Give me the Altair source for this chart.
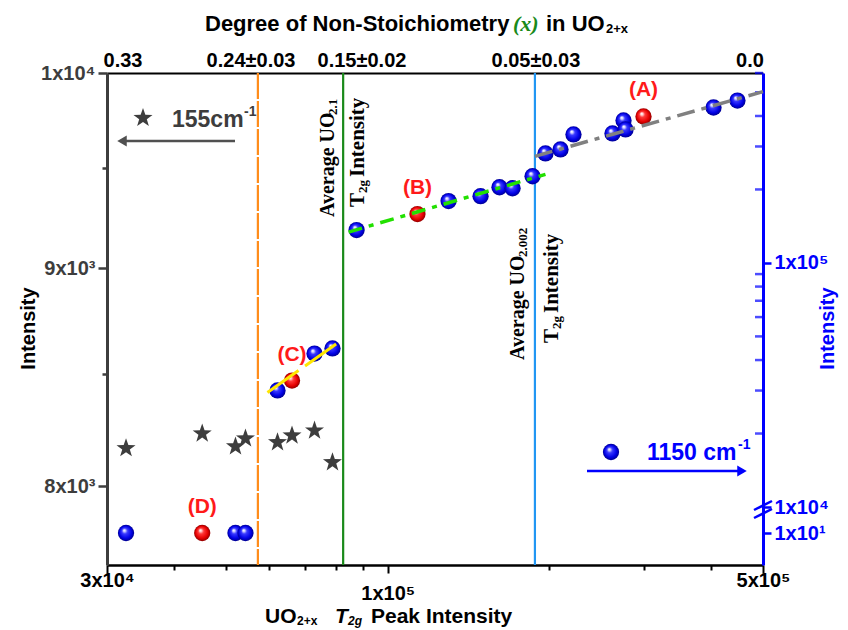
import math
import altair as alt
import pandas as pd

# ---------------- data ----------------
# 155 cm-1 band (stars, left axis)
star_x = [32550, 45130, 52050, 54330, 62330, 66330, 73050, 78900]
star_y = [8166, 8231, 8174, 8209, 8192, 8222, 8244, 8104]

# 1150 cm-1 band (blue spheres, right axis)
blue_x = [32550, 52050, 54330, 62330, 73050, 78900, 87500, 129800, 148900, 161500,
          170800, 186100, 196700, 209800, 221800, 262200, 274900, 277300, 404400, 448100]
blue_y = [10, 10, 10, 30040, 42530, 44630, 136400, 179200, 187700, 204200,
          202300, 226500, 281000, 291800, 336200, 339400, 383500, 352400, 433300, 462700]

# highlighted samples (red spheres)
red_x = [299500, 113600, 66330, 45130]
red_y = [398300, 158500, 32960, 10]
red_lab = ["(A)", "(B)", "(C)", "(D)"]

# linear guides
gray_x = [188000, 500000]
gray_y = [273400, 503500]
green_x = [84540, 196700]
green_y = [133800, 230700]
yellow_x = [59700, 81330]
yellow_y = [29470, 47600]

# vertical markers
vline_x = [57300, 82600, 188000]

# axes
bottom_ticks = [30000, 40000, 50000, 60000, 70000, 80000, 90000, 100000, 200000, 300000, 400000, 500000]
bottom_major = [30000, 100000, 500000]
bottom_labels = ["3x10\u2074", "1x10\u2075", "5x10\u2075"]

left_ticks = [8000, 8500, 9000, 9500, 10000]
left_major = [8000, 9000, 10000]
left_labels = ["8x10\u00b3", "9x10\u00b3", "1x10\u2074"]

right_major = [10, 10000, 100000]
right_labels = ["1x10\u00b9", "1x10\u2074", "1x10\u2075"]
right_minor = [20000, 30000, 40000, 50000, 60000, 70000, 80000, 90000,
               200000, 300000, 400000, 500000, 600000]

top_pos = [32060, 55520, 89350, 188400, 471800]
top_labels = ["0.33", "0.24\u00b10.03", "0.15\u00b10.02", "0.05\u00b10.03", "0.0"]

# ---------------- styling helpers ----------------
W, H = 656, 492
SANS = "Liberation Sans"
SERIF = "Liberation Serif"
LEFTC = "#3d3d3d"
BLUE = "#0000ff"
RED = "#ff1a1a"


def lab_expr(vals, labs):
    e = "''"
    for v, l in zip(reversed(vals), reversed(labs)):
        e = f"(datum.value == {v}) ? '{l}' : {e}"
    return e


def any_test(vals):
    return " || ".join(f"datum.value == {v}" for v in vals)


xscale = alt.Scale(type="log", domain=[30000, 500000], nice=False)
yscale_left = alt.Scale(type="log", domain=[7667, 10000], nice=False)
yscale_right = alt.Scale(type="log", domain=[7.4, 10, 10000, 600000],
                         range=[492, 460, 434, 0], nice=False)

axis_bottom = alt.Axis(
    orient="bottom", values=bottom_ticks, labelExpr=lab_expr(bottom_major, bottom_labels),
    title=None, grid=False,
    tickSize={"condition": {"test": any_test(bottom_major), "value": 8}, "value": 5},
    tickWidth=2, tickColor="black", domainColor="black", domainWidth=2.5,
    labelPadding={"condition": {"test": "datum.value == 100000", "value": 10}, "value": -3},
    labelFont=SANS, labelFontWeight="bold", labelFontSize=20, labelColor="black",
    labelFlush=False, labelOverlap=False, labelBound=False,
)
axis_top = alt.Axis(
    orient="top", values=top_pos, labelExpr=lab_expr(top_pos, top_labels),
    title=None, grid=False, ticks=False, domainColor="black", domainWidth=2,
    labelPadding=3, labelFont=SANS, labelFontWeight="bold", labelFontSize=20,
    labelColor="black", labelFlush=False, labelOverlap=False, labelBound=False,
)
axis_left = alt.Axis(
    orient="left", values=left_ticks, labelExpr=lab_expr(left_major, left_labels),
    title="Intensity", titleAngle=270, titleX=-79, titleY=255, titleAlign="center",
    titleBaseline="middle", titleFont=SANS, titleFontWeight="bold", titleFontSize=20,
    titleColor="black", grid=False,
    tickSize={"condition": {"test": any_test(left_major), "value": 9}, "value": 5},
    tickWidth=2.5, tickColor=LEFTC, domainColor=LEFTC, domainWidth=3,
    labelPadding=3, labelFont=SANS, labelFontWeight="bold", labelFontSize=20,
    labelColor=LEFTC, labelOverlap=False, labelFlush=False, labelBound=False,
)
axis_right = alt.Axis(
    orient="right", values=right_major, labelExpr=lab_expr(right_major, right_labels),
    title="Intensity", titleAngle=270, titleX=64, titleY=255, titleAlign="center",
    titleBaseline="middle", titleFont=SANS, titleFontWeight="bold", titleFontSize=20,
    titleColor=BLUE, grid=False, tickSize=8, tickWidth=2.5, tickColor=BLUE,
    domainColor=BLUE, domainWidth=3, labelPadding=3, labelFont=SANS,
    labelFontWeight="bold", labelFontSize=20, labelColor=BLUE,
    labelOverlap=False, labelFlush=False, labelBound=False,
)


def sphere(base_light, base, dark, darkest):
    return alt.RadialGradient(
        gradient="radial", x1=0.38, y1=0.32, r1=0.0, x2=0.5, y2=0.5, r2=0.5,
        stops=[
            alt.GradientStop(offset=0.0, color="#ffffff"),
            alt.GradientStop(offset=0.14, color=base_light),
            alt.GradientStop(offset=0.34, color=base),
            alt.GradientStop(offset=0.75, color=dark),
            alt.GradientStop(offset=1.0, color=darkest),
        ],
    )


blue_grad = sphere("#d6d6ff", "#3a3aff", "#0000e6", "#00008f")
red_grad = sphere("#ffd6d6", "#ff3a3a", "#e60000", "#8f0000")

pts = []
for i in range(10):
    r = 1.0 if i % 2 == 0 else 0.4
    a = math.radians(-90 + 36 * i)
    pts.append((r * math.cos(a), r * math.sin(a)))
STAR = "M" + " L".join(f"{px:.3f},{py:.3f}" for px, py in pts) + " Z"
BALL = 265

# ---------------- data frames ----------------
df_star = pd.DataFrame({"x": star_x, "y": star_y})
df_blue = pd.DataFrame({"x": blue_x, "y": blue_y})
df_red = pd.DataFrame({"x": red_x, "y": red_y, "lab": red_lab})
df_gray = pd.DataFrame({"x": gray_x, "y": gray_y})
df_green = pd.DataFrame({"x": green_x, "y": green_y})
df_yellow = pd.DataFrame({"x": yellow_x, "y": yellow_y})
dummy = pd.DataFrame({"d": [0]})

xL = alt.X("x:Q", scale=xscale, axis=axis_bottom)
yL = alt.Y("y:Q", scale=yscale_left, axis=axis_left)
xR = alt.X("x:Q", scale=xscale, axis=None)
yR = alt.Y("y:Q", scale=yscale_right, axis=axis_right)
xT = alt.X("x:Q", scale=xscale, axis=axis_top)

# ---- left group: stars ----
stars = alt.Chart(df_star).mark_point(shape=STAR, filled=True, size=400, color=LEFTC,
                                      opacity=1).encode(x=xL, y=yL)
group_left = alt.layer(stars)

# ---- right group: spheres, guides ----
minor_ticks = alt.Chart(pd.DataFrame({"y": right_minor})).mark_tick(
    orient="horizontal", size=8, thickness=2.5, color=BLUE).encode(
    x=alt.value(W - 4), y=yR)
blue_pts = alt.Chart(df_blue).mark_circle(size=BALL, fill=blue_grad, opacity=1).encode(x=xR, y=yR)
red_pts = alt.Chart(df_red).mark_circle(size=BALL, fill=red_grad, opacity=1).encode(x=xR, y=yR)
red_txt = alt.Chart(df_red).mark_text(font=SANS, fontWeight="bold", fontSize=21, color=RED,
                                      dy=-26).encode(x=xR, y=yR, text="lab:N")
gray_line = alt.Chart(df_gray).mark_line(color="#808080", strokeWidth=3.5,
                                         strokeDash=[18, 7, 5, 7]).encode(x=xR, y=yR)
green_line = alt.Chart(df_green).mark_line(color="#22e000", strokeWidth=3.5,
                                           strokeDash=[14, 7, 5, 7]).encode(x=xR, y=yR)
yellow_line = alt.Chart(df_yellow).mark_line(color="#ffe600", strokeWidth=3,
                                             strokeDash=[38, 8]).encode(x=xR, y=yR)
group_right = alt.layer(minor_ticks, blue_pts, red_pts, gray_line, green_line,
                        yellow_line, red_txt)

# ---- top group: vertical markers + stoichiometry axis ----
vcols = ["#ff8c1a", "#1a8a1a", "#2196f3"]
vdash = [[26, 2], [1, 0], [1, 0]]
vrules = [
    alt.Chart(pd.DataFrame({"x": [vx]})).mark_rule(color=c, strokeWidth=2.2, strokeDash=d).encode(x=xT)
    for vx, c, d in zip(vline_x, vcols, vdash)
]
group_top = alt.layer(*vrules)


# ---- annotations ----
def txt(s, x, y, size, color="black", font=SANS, weight="bold", style="normal",
        angle=0, align="left"):
    return alt.Chart(dummy).mark_text(
        text=s, fontSize=size, color=color, font=font, fontWeight=weight,
        fontStyle=style, angle=angle, align=align, baseline="middle",
    ).encode(x=alt.value(x), y=alt.value(y))


ann = [
    # top title
    txt("Degree of Non-Stoichiometry", 98, -49, 22),
    txt("(x)", 406, -49, 22, color="#1a8a1a", font=SERIF, style="italic"),
    txt("in UO", 439, -49, 22),
    txt("2+x", 499, -44, 13),
    # bottom title
    txt("UO", 158, 544, 21),
    txt("2+x", 190, 548, 12),
    txt("T", 228, 544, 21, style="italic"),
    txt("2g", 241, 548, 12, style="italic"),
    txt("Peak Intensity", 264, 544, 21),
    # vertical annotations (green line)
    txt("Average UO", 221, 144, 20, font=SERIF, angle=270),
    txt("2.1", 226, 42, 13, font=SERIF, angle=270),
    txt("T", 251, 134, 21, font=SERIF, angle=270),
    txt("2g", 256, 120, 13, font=SERIF, angle=270),
    txt("Intensity", 251, 104, 21, font=SERIF, angle=270),
    # vertical annotations (blue line)
    txt("Average UO", 411, 287, 20, font=SERIF, angle=270),
    txt("2.002", 416, 184, 13, font=SERIF, angle=270),
    txt("T", 445, 270, 21, font=SERIF, angle=270),
    txt("2g", 450, 256, 13, font=SERIF, angle=270),
    txt("Intensity", 445, 240, 21, font=SERIF, angle=270),
    # legends
    txt("155cm", 65, 47, 23, color=LEFTC),
    txt("-1", 137, 39, 14, color=LEFTC),
    txt("1150 cm", 540, 380, 23, color=BLUE),
    txt("-1", 631, 372, 14, color=BLUE),
]
star_icon = alt.Chart(dummy).mark_point(shape=STAR, filled=True, size=400, color=LEFTC,
                                        opacity=1).encode(x=alt.value(36), y=alt.value(45))
ball_icon = alt.Chart(dummy).mark_circle(size=BALL, fill=blue_grad, opacity=1).encode(
    x=alt.value(504), y=alt.value(379))
arrow_l = alt.Chart(dummy).mark_rule(color="#505050", strokeWidth=2.5).encode(
    x=alt.value(128), x2=alt.value(14), y=alt.value(68))
head_l = alt.Chart(dummy).mark_point(shape="triangle-left", filled=True, size=120,
                                     color="#505050", opacity=1).encode(
    x=alt.value(15), y=alt.value(68))
arrow_r = alt.Chart(dummy).mark_rule(color=BLUE, strokeWidth=2.5).encode(
    x=alt.value(480), x2=alt.value(636), y=alt.value(398))
head_r = alt.Chart(dummy).mark_point(shape="triangle-right", filled=True, size=120,
                                     color=BLUE, opacity=1).encode(
    x=alt.value(635), y=alt.value(398))
brk1 = alt.Chart(dummy).mark_rule(color=BLUE, strokeWidth=2.5).encode(
    x=alt.value(647), x2=alt.value(665), y=alt.value(437), y2=alt.value(428))
brk2 = alt.Chart(dummy).mark_rule(color=BLUE, strokeWidth=2.5).encode(
    x=alt.value(647), x2=alt.value(665), y=alt.value(445), y2=alt.value(436))
group_ann = alt.layer(*ann, star_icon, ball_icon, arrow_l, head_l, arrow_r, head_r, brk1, brk2)

chart = (
    alt.layer(group_top, group_left, group_right, group_ann)
    .resolve_scale(y="independent")
    .resolve_axis(x="independent", y="independent")
    .properties(
        width=W, height=H,
        autosize=alt.AutoSizeParams(type="none"),
        padding={"left": 107, "top": 73, "right": 85, "bottom": 65},
        background="white",
    )
    .configure_view(stroke=None)
)

chart.save("out.html", embed_options={"renderer": "svg", "actions": False})
